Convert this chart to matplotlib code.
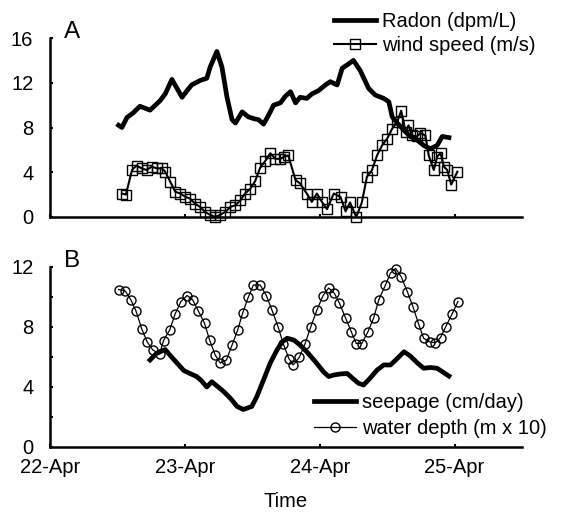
import numpy as np
import matplotlib
matplotlib.use("Agg")
import matplotlib.pyplot as plt
from matplotlib.ticker import MultipleLocator

plt.rcParams['font.family'] = ['Liberation Sans', 'DejaVu Sans']
plt.rcParams['font.size'] = 14.5

# -----------------------------
# Dados (tempo em horas desde 22-Apr 00:00)
# -----------------------------
radon_t = [12.2, 12.8, 13.7, 14.8, 16.0, 17.8, 19.6, 20.5, 21.7, 22.6, 23.5, 24.4, 25.2,
           26.7, 27.9, 28.5, 29.7, 30.6, 31.5, 32.4, 33.0, 34.2, 35.3, 36.2, 37.1, 38.0,
           38.9, 39.8, 41.0, 41.9, 42.8, 43.7, 44.5, 45.7, 46.6, 47.8, 49.0, 49.9, 51.1,
           52.0, 52.9, 54.0, 55.2, 56.7, 57.9, 59.4, 60.3, 60.9, 61.8, 62.9, 64.1, 65.3,
           66.5, 67.7, 68.9, 69.8, 71.0]
radon = [8.2, 8.0, 8.9, 9.3, 9.9, 9.55, 10.4, 11.0, 12.3, 11.5, 10.7, 11.3, 11.8,
         12.2, 12.4, 13.4, 14.8, 13.4, 10.7, 8.7, 8.4, 9.4, 8.95, 8.8, 8.7, 8.3,
         9.1, 10.0, 10.2, 10.8, 11.2, 10.2, 10.7, 10.6, 11.0, 11.3, 11.8, 12.1, 11.8,
         13.3, 13.6, 14.0, 13.1, 11.5, 10.9, 10.6, 10.3, 8.95, 8.4, 7.8, 7.2, 6.9,
         6.4, 6.1, 6.4, 7.2, 7.1]

wind_t = [12.8, 13.5, 14.6, 15.4, 16.3, 17.2, 18.1, 19.0, 19.9, 20.5, 21.4, 22.3, 23.2,
          24.1, 24.9, 25.8, 26.7, 27.6, 28.5, 29.4, 30.3, 31.2, 32.1, 33.0, 33.9, 34.7,
          35.6, 36.5, 37.4, 38.3, 39.2, 40.1, 41.0, 41.7, 42.4, 43.7, 44.5, 45.7, 46.6,
          47.5, 48.4, 49.3, 50.5, 51.7, 52.6, 53.4, 54.5, 55.5, 56.4, 57.3, 58.2, 59.1,
          60.0, 60.9, 61.8, 62.5, 63.3, 63.8, 64.4, 65.3, 65.9, 66.8, 67.4, 68.3, 68.9,
          69.5, 70.1, 70.7, 71.4, 72.5]
wind = [2.1, 2.0, 4.2, 4.6, 4.35, 4.2, 4.5, 4.35, 4.35, 4.05, 3.15, 2.25, 2.1,
        1.8, 1.65, 1.2, 0.9, 0.45, 0.2, 0.0, 0.2, 0.45, 0.9, 1.05, 1.5, 2.1,
        2.5, 3.2, 4.4, 5.0, 5.7, 5.2, 5.2, 5.4, 5.5, 3.3, 3.0, 2.1, 1.35,
        2.1, 1.35, 0.7, 2.1, 1.8, 0.5, 1.3, 0.0, 1.3, 3.6, 4.2, 5.5, 6.4,
        7.0, 7.9, 8.5, 9.5, 7.6, 8.2, 7.3, 7.2, 7.5, 7.3, 5.5, 4.2, 5.4,
        5.7, 4.5, 4.2, 2.9, 4.05]

seep_t = [17.8, 19.0, 20.5, 21.4, 22.6, 23.8, 24.9, 26.1, 27.0, 27.9, 28.8, 29.7, 30.9,
          32.1, 33.3, 34.4, 35.9, 36.8, 38.0, 39.2, 40.4, 41.3, 42.2, 43.4, 44.5, 45.7,
          47.2, 48.7, 49.6, 50.5, 51.7, 52.9, 53.8, 54.9, 55.8, 57.0, 58.2, 59.4, 60.6,
          61.8, 63.0, 64.1, 65.4, 66.5, 67.7, 68.9, 70.1, 71.0]
seepage = [5.8, 6.25, 6.5, 6.1, 5.6, 5.1, 4.9, 4.7, 4.4, 4.0, 4.35, 4.07, 3.7,
           3.25, 2.7, 2.5, 2.7, 3.35, 4.47, 5.6, 6.47, 7.0, 7.25, 7.13, 6.8, 6.35,
           5.7, 5.0, 4.7, 4.8, 4.87, 4.9, 4.6, 4.25, 4.13, 4.6, 5.13, 5.47, 5.47,
           5.9, 6.35, 6.07, 5.6, 5.25, 5.3, 5.25, 4.95, 4.73]

depth_t = [12.2, 13.4, 14.4, 15.3, 16.3, 17.3, 18.3, 19.5, 20.2, 21.3, 22.3, 23.3, 24.4,
           25.4, 26.4, 27.5, 28.4, 29.4, 30.3, 31.4, 32.4, 33.4, 34.3, 35.3, 36.2, 37.4,
           38.5, 39.5, 40.6, 41.5, 42.5, 43.3, 44.4, 45.4, 46.4, 47.5, 48.6, 49.6, 50.6,
           51.5, 52.6, 53.6, 54.5, 55.5, 56.6, 57.6, 58.5, 59.7, 60.6, 61.5, 62.5, 63.6,
           64.6, 65.6, 66.5, 67.6, 68.6, 69.5, 70.4, 71.6, 72.6]
depth = [10.5, 10.4, 9.8, 9.07, 7.9, 7.0, 6.47, 6.2, 7.1, 7.8, 8.9, 9.7, 10.1,
         9.8, 9.07, 8.25, 7.13, 6.13, 5.6, 5.8, 6.8, 7.8, 8.95, 10.0, 10.8, 10.8,
         10.1, 9.13, 8.0, 6.9, 5.9, 5.47, 6.0, 6.9, 8.0, 9.13, 10.1, 10.6, 10.25,
         9.6, 8.6, 7.7, 6.9, 6.9, 7.7, 8.6, 9.8, 10.8, 11.6, 11.9, 11.35, 10.35,
         9.35, 8.2, 7.25, 7.0, 6.95, 7.3, 8.0, 8.9, 9.7]

date_ticks = [0, 24, 48, 72]
date_labels = ['22-Apr', '23-Apr', '24-Apr', '25-Apr']

# -----------------------------
# Figura
# -----------------------------
W, H = 569, 512
fig = plt.figure(figsize=(W / 100, H / 100), dpi=100)

def eixo(x0, y_top, x1, y_bot):
    return fig.add_axes([x0 / W, 1 - y_bot / H, (x1 - x0) / W, (y_bot - y_top) / H])

axA = eixo(50, 38, 522, 217)
axB = eixo(50, 267, 522, 447)

for ax in (axA, axB):
    ax.spines['top'].set_visible(False)
    ax.spines['right'].set_visible(False)
    ax.spines['left'].set_linewidth(1.8)
    ax.spines['bottom'].set_linewidth(1.8)
    ax.set_xlim(0, 84)
    ax.set_xticks(date_ticks)
    ax.tick_params(direction='in', length=2.5, width=1.5, pad=12, which='both')
    ax.tick_params(axis='x', pad=8)

# Painel A
axA.plot(radon_t, radon, color='black', lw=3.4, label='Radon (dpm/L)', clip_on=False)
axA.plot(wind_t, wind, color='black', lw=1.5, marker='s', ms=6.5, mfc='none',
         mec='black', mew=1.0, label='wind speed (m/s)', clip_on=False)
axA.set_ylim(0, 16)
axA.yaxis.set_major_locator(MultipleLocator(4))
axA.set_xticklabels([])
axA.text(2.5, 16, 'A', va='baseline', ha='left', fontsize=17.5)
axA.legend(loc='upper left', bbox_to_anchor=(330 / W, 1 - 8 / H),
           bbox_transform=fig.transFigure, frameon=False, handlelength=2.1,
           handletextpad=0.3, labelspacing=0.25, borderpad=0.2, borderaxespad=0)

# Painel B
axB.plot(seep_t, seepage, color='black', lw=3.4, label='seepage (cm/day)', clip_on=False)
axB.plot(depth_t, depth, color='black', lw=0.9, marker='o', ms=6.5, mfc='none',
         mec='black', mew=1.0, label='water depth (m x 10)', clip_on=False)
axB.set_ylim(0, 12)
axB.yaxis.set_major_locator(MultipleLocator(4))
axB.yaxis.set_minor_locator(MultipleLocator(2))
axB.set_xticklabels(date_labels)
axB.set_xlabel('Time', labelpad=11)
axB.text(2.5, 12, 'B', va='baseline', ha='left', fontsize=17.5)
axB.legend(loc='upper left', bbox_to_anchor=(310 / W, 1 - 389 / H),
           bbox_transform=fig.transFigure, frameon=False, handlelength=2.1,
           handletextpad=0.3, labelspacing=0.35, borderpad=0.2, borderaxespad=0)

fig.savefig('out.png', dpi=100)
